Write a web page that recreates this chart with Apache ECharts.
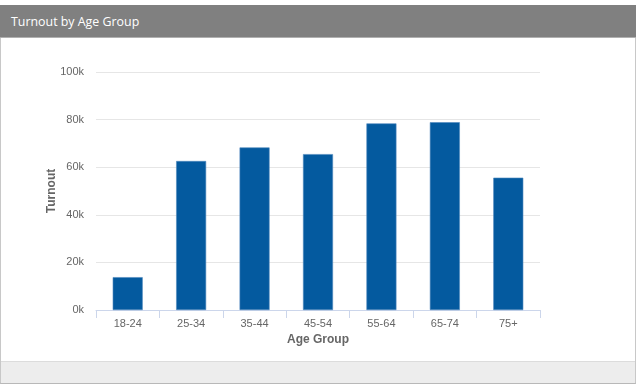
<!DOCTYPE html>
<html>
<head>
<meta charset="utf-8">
<script src="https://cdn.jsdelivr.net/npm/echarts@6/dist/echarts.min.js"></script>
<style>
  html, body { margin: 0; padding: 0; width: 640px; height: 390px; background: #fff; overflow: hidden; }
  #panel { position: absolute; left: 0; top: 5px; width: 634px; height: 377px; border: 1px solid #c8c8c8; border-bottom: 2px solid #b8b8b8; border-top: none; box-sizing: content-box; }
  #header { position: absolute; left: 0; top: 5px; width: 636px; height: 32px; background: #808080; border-bottom: 1px solid #b0b0b0; }
  #title { position: absolute; left: 11px; top: 13px; color: #fff; font-family: "Open Sans", sans-serif; font-size: 12.4px; }
  #footer { position: absolute; left: 1px; top: 361px; width: 634px; height: 21px; background: #ededed; border-top: 1px solid #dcdcdc; }
  #chart { position: absolute; left: 0; top: 0; width: 640px; height: 390px; }
</style>
</head>
<body>
<div id="panel"></div>
<div id="header"></div>
<div id="title">Turnout by Age Group</div>
<div id="footer"></div>
<div id="chart"></div>
<script>
const categories = ['18-24', '25-34', '35-44', '45-54', '55-64', '65-74', '75+'];
const turnout = [13800, 62600, 68300, 65500, 78400, 78900, 55600];
const xAxisTitle = 'Age Group';
const yAxisTitle = 'Turnout';

const chart = echarts.init(document.getElementById('chart'), null, { renderer: 'canvas' });
const labelFont = { color: '#666666', fontSize: 11, fontFamily: 'Liberation Sans, Arial, sans-serif' };
chart.setOption({
  backgroundColor: 'transparent',
  animation: false,
  grid: { left: 96, right: 100, top: 72, bottom: 80 },
  xAxis: {
    type: 'category',
    data: categories,
    name: xAxisTitle,
    nameLocation: 'middle',
    nameGap: 24,
    nameTextStyle: { color: '#666666', fontSize: 12, fontWeight: 'bold', fontFamily: 'Liberation Sans, Arial, sans-serif' },
    axisLine: { lineStyle: { color: '#ccd6eb', width: 1 } },
    axisTick: { show: true, length: 8, lineStyle: { color: '#ccd6eb' } },
    axisLabel: Object.assign({ margin: 8 }, labelFont)
  },
  yAxis: {
    type: 'value',
    min: 0,
    max: 100000,
    interval: 20000,
    name: yAxisTitle,
    nameLocation: 'middle',
    nameGap: 38,
    nameMoveOverlap: false,
    nameRotate: 90,
    nameTextStyle: { color: '#666666', fontSize: 12, fontWeight: 'bold', fontFamily: 'Liberation Sans, Arial, sans-serif' },
    axisLine: { show: false },
    axisTick: { show: false },
    splitLine: { lineStyle: { color: '#e6e6e6', width: 1 } },
    axisLabel: Object.assign({ margin: 12, formatter: v => (v / 1000) + 'k' }, labelFont)
  },
  series: [{
    type: 'bar',
    data: turnout,
    barWidth: 30,
    itemStyle: { color: '#045a9f', borderColor: '#4f88bd', borderWidth: 0.6 }
  }]
});
</script>
</body>
</html>
